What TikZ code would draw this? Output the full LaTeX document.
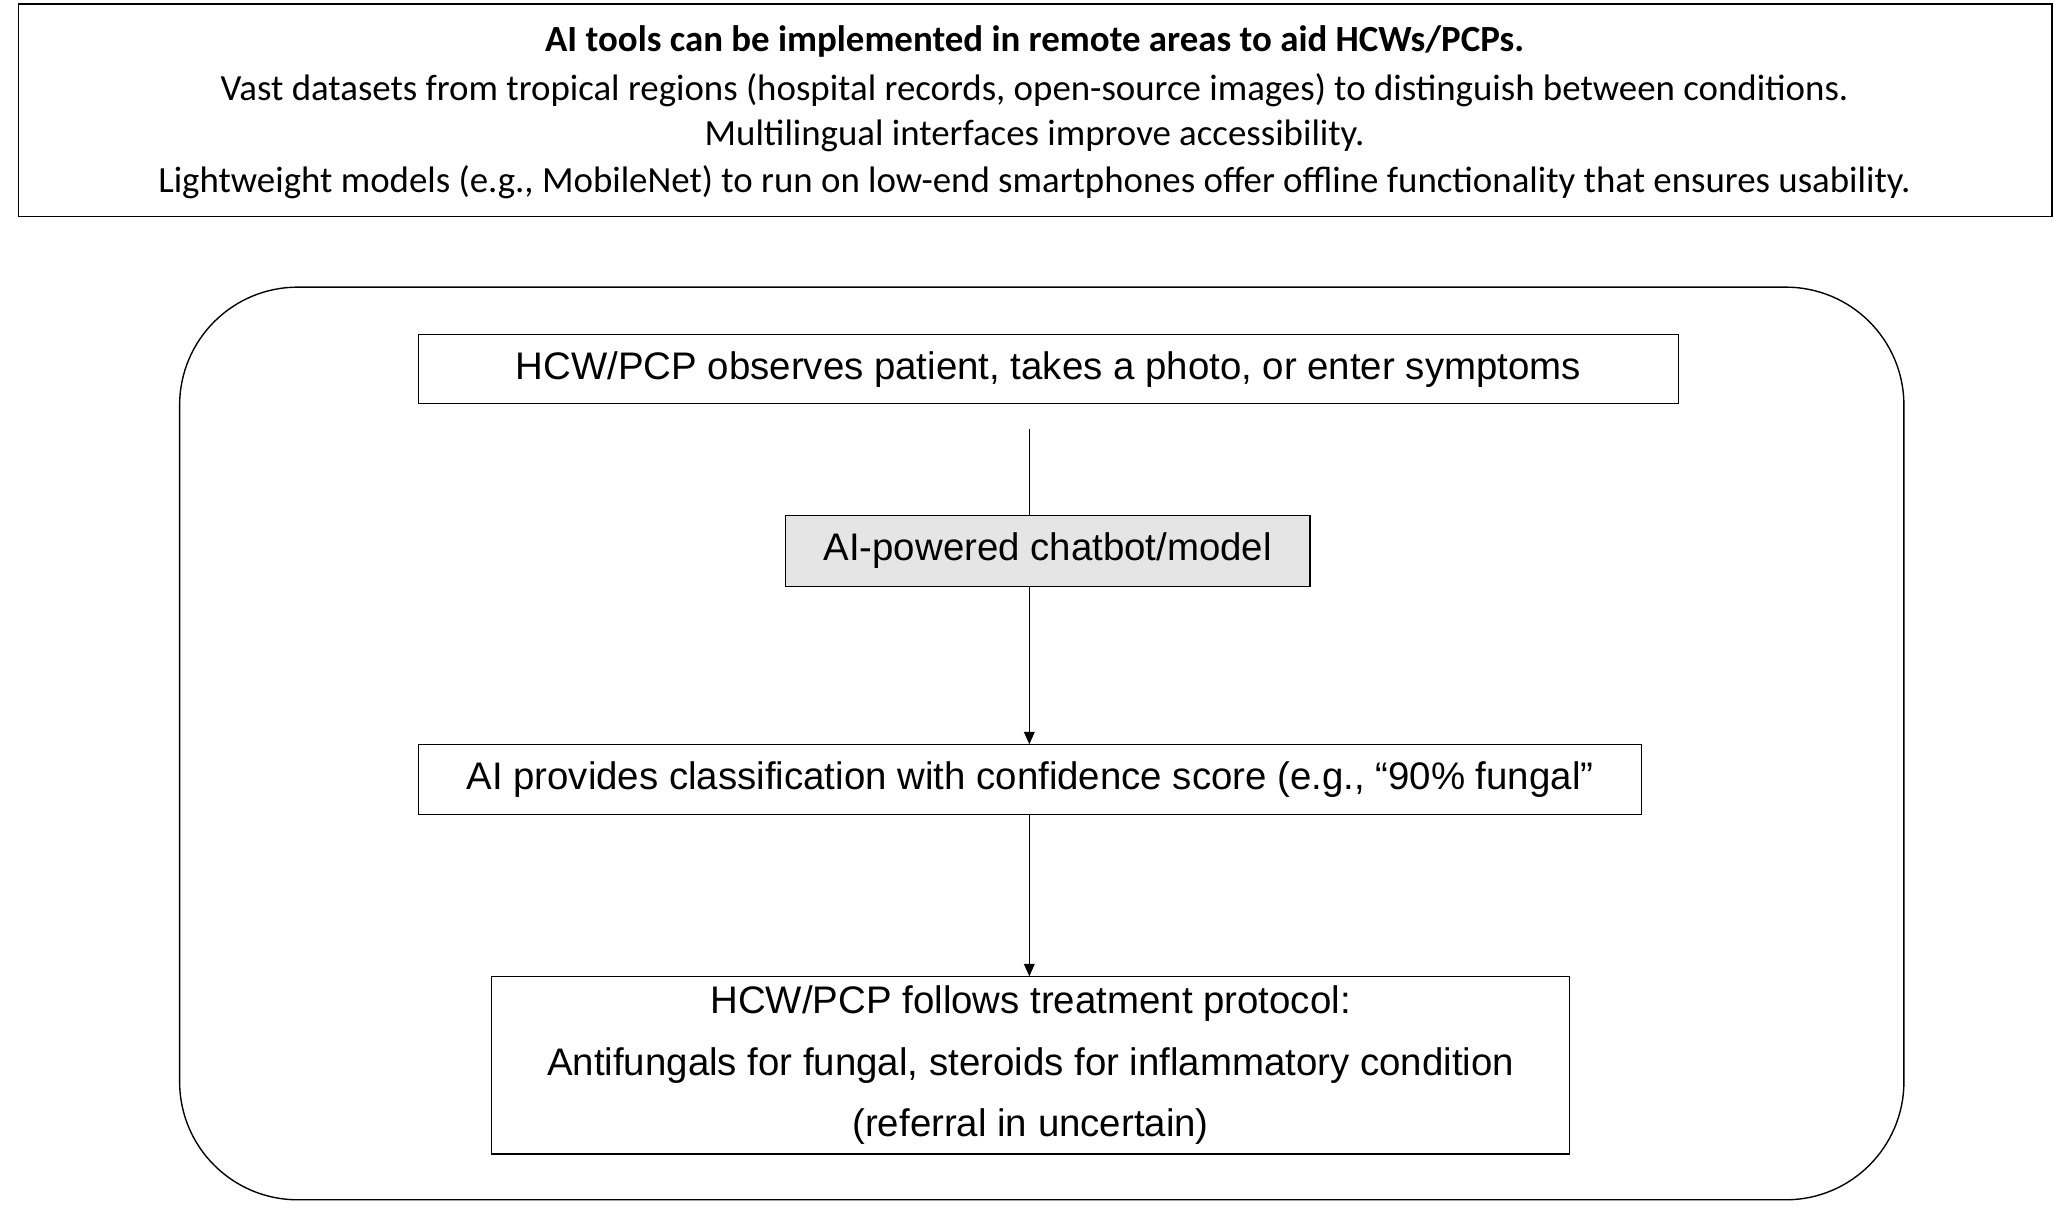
\documentclass[tikz,border=0pt]{standalone}
\usepackage{fontspec}
\setmainfont{Liberation Sans}
\newfontfamily\calfont{Carlito}
\usetikzlibrary{arrows.meta}
\begin{document}
\begin{tikzpicture}[x=0.03cm,y=-0.03cm,
  box/.style={draw,line width=0.8pt,inner sep=0pt,font=\fontsize{25}{30}\selectfont},
  conn/.style={line width=0.6pt,-{Triangle[length=8pt,width=7pt]}}]
\useasboundingbox (0,0) rectangle (1568,930);
\fill[white] (0,0) rectangle (1568,930);
\node[draw,line width=0.8pt,minimum width=1551*0.03cm,minimum height=162*0.03cm,inner sep=0pt] (top) at (789.5,84) {};
\node[font=\calfont\bfseries\fontsize{24}{28}\selectfont] (t1) at (789,32) {AI tools can be implemented in remote areas to aid HCWs/PCPs.};
\node[font=\calfont\fontsize{24}{28}\selectfont] (t2) at (789,69) {Vast datasets from tropical regions (hospital records, open-source images) to distinguish between conditions.};
\node[font=\calfont\fontsize{24}{28}\selectfont] (t3) at (789,104) {Multilingual interfaces improve accessibility.};
\node[font=\calfont\fontsize{24}{28}\selectfont] (t4) at (789,139) {Lightweight models (e.g., MobileNet) to run on low-end smartphones offer offline functionality that ensures usability.};
\draw[line width=0.9pt,rounded corners=90*0.03cm] (137,219) rectangle (1452,915);
\node[box,minimum width=961*0.03cm,minimum height=53*0.03cm] (b1) at (799.5,281.5) {HCW/PCP observes patient, takes a photo, or enter symptoms};
\node[box,fill=black!10,minimum width=400*0.03cm,minimum height=54*0.03cm] (b2) at (799,420) {AI-powered chatbot/model};
\node[box,minimum width=933*0.03cm,minimum height=53*0.03cm] (b3) at (785.5,594.5) {AI provides classification with confidence score (e.g., “90\% fungal”};
\node[box,minimum width=822*0.03cm,minimum height=135*0.03cm,align=center,font=\fontsize{25}{40}\selectfont] (b4) at (786,812.5) {HCW/PCP follows treatment protocol:\\Antifungals for fungal, steroids for inflammatory condition\\(referral in uncertain)};
\coordinate (s1) at (785,327);
\draw[line width=0.6pt] (s1) -- (s1 |- b2.north);
\draw[conn] (b2.south -| s1) -- (s1 |- b3.north);
\draw[conn] (b3.south -| s1) -- (s1 |- b4.north);
\end{tikzpicture}
\end{document}
